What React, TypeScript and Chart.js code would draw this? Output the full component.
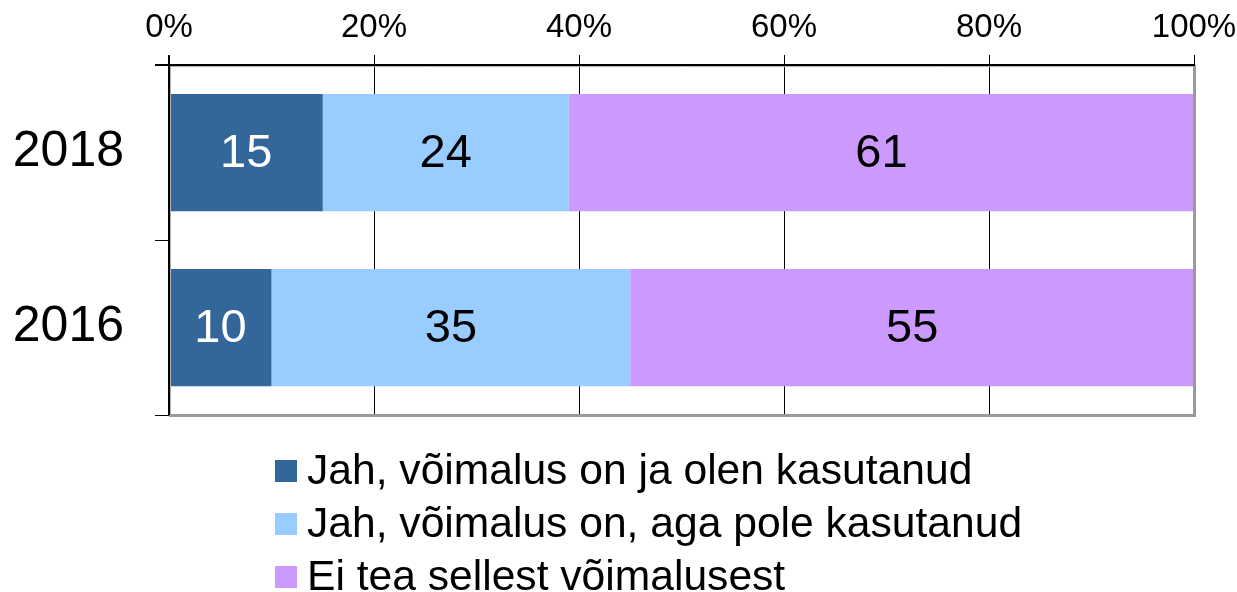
import React, { useEffect, useRef } from 'react';
import { Chart, registerables } from 'chart.js';

Chart.register(...registerables);

const categories = ['2018', '2016'];
const seriesNames = [
  'Jah, võimalus on ja olen kasutanud',
  'Jah, võimalus on, aga pole kasutanud',
  'Ei tea sellest võimalusest',
];
const usedValues = [15, 10];
const notUsedValues = [24, 35];
const unknownValues = [61, 55];
const xTickValues = [0, 20, 40, 60, 80, 100];
const seriesColors = ['#336699', '#99CCFF', '#CC99FF'];
const labelColors = ['#FFFFFF', '#000000', '#000000'];

const FONT = '"Liberation Sans", Arial, Helvetica, sans-serif';

const dataLabelPlugin = {
  id: 'dataLabels',
  afterDatasetsDraw(chart: any) {
    const ctx = chart.ctx;
    ctx.save();
    ctx.font = `47px ${FONT}`;
    ctx.textAlign = 'center';
    ctx.textBaseline = 'middle';
    chart.data.datasets.forEach((ds: any, i: number) => {
      const meta = chart.getDatasetMeta(i);
      meta.data.forEach((el: any, j: number) => {
        const p = el.getProps(['x', 'y', 'base'], true);
        ctx.fillStyle = labelColors[i];
        ctx.fillText(String(ds.data[j]), (p.x + p.base) / 2, p.y + 2);
      });
    });
    ctx.restore();
  },
};

const framePlugin = {
  id: 'frame',
  afterDraw(chart: any) {
    const ctx = chart.ctx;
    const a = chart.chartArea;
    ctx.save();
    ctx.lineCap = 'butt';
    ctx.strokeStyle = '#9a9a9a';
    ctx.lineWidth = 3;
    ctx.beginPath();
    ctx.moveTo(a.right + 0.5, a.top);
    ctx.lineTo(a.right + 0.5, a.bottom + 1.5);
    ctx.moveTo(a.left, a.bottom + 0.5);
    ctx.lineTo(a.right + 2, a.bottom + 0.5);
    ctx.stroke();
    ctx.strokeStyle = '#b0b0b0';
    ctx.lineWidth = 1;
    ctx.beginPath();
    ctx.moveTo(a.left, a.top + 1.5);
    ctx.lineTo(a.right, a.top + 1.5);
    ctx.moveTo(a.left + 1.5, a.top);
    ctx.lineTo(a.left + 1.5, a.bottom);
    ctx.stroke();
    ctx.strokeStyle = '#000000';
    ctx.lineWidth = 2;
    ctx.beginPath();
    ctx.moveTo(a.left - 14, a.top);
    ctx.lineTo(a.right + 1, a.top);
    ctx.moveTo(a.left, a.top - 10);
    ctx.lineTo(a.left, a.bottom);
    ctx.stroke();
    ctx.restore();
  },
};

const legendPlugin = {
  id: 'customLegend',
  afterDraw(chart: any) {
    const ctx = chart.ctx;
    ctx.save();
    ctx.font = `42.6px ${FONT}`;
    ctx.textBaseline = 'middle';
    ctx.textAlign = 'left';
    const startY = 471;
    const step = 53;
    chart.data.datasets.forEach((ds: any, i: number) => {
      const cy = startY + i * step;
      ctx.fillStyle = ds.backgroundColor;
      ctx.fillRect(275, cy - 11, 22, 22);
      ctx.fillStyle = '#000000';
      ctx.fillText(ds.label, 307, cy + 1);
    });
    ctx.restore();
  },
};

export default function App() {
  const canvasRef = useRef<HTMLCanvasElement | null>(null);

  useEffect(() => {
    document.body.style.margin = '0';
    const canvas = canvasRef.current;
    if (!canvas) return;
    const chart = new Chart(canvas, {
      type: 'bar',
      data: {
        labels: categories,
        datasets: [
          { label: seriesNames[0], data: usedValues, backgroundColor: seriesColors[0] },
          { label: seriesNames[1], data: notUsedValues, backgroundColor: seriesColors[1] },
          { label: seriesNames[2], data: unknownValues, backgroundColor: seriesColors[2] },
        ],
      },
      options: {
        indexAxis: 'y',
        responsive: false,
        animation: false,
        devicePixelRatio: 1,
        categoryPercentage: 1,
        barPercentage: 0.67,
        layout: { padding: { left: 0, top: 0, right: 43, bottom: 177 } },
        plugins: {
          legend: { display: false },
          tooltip: { enabled: false },
          title: { display: false },
        },
        scales: {
          x: {
            position: 'top',
            stacked: true,
            min: 0,
            max: 100,
            afterBuildTicks: (s: any) => {
              s.ticks = xTickValues.map((v) => ({ value: v }));
            },
            afterFit: (s: any) => {
              s.height = 65;
              s.paddingLeft = 0;
              s.paddingRight = 0;
            },
            ticks: {
              callback: (v: any) => `${v}%`,
              font: { family: FONT, size: 33 },
              color: '#000000',
              padding: 7,
              maxRotation: 0,
            },
            grid: {
              color: '#000000',
              lineWidth: 1,
              tickLength: 10,
              drawOnChartArea: true,
            },
            border: { display: false },
          },
          y: {
            stacked: true,
            afterFit: (s: any) => {
              s.width = 169;
            },
            ticks: {
              font: { family: FONT, size: 50 },
              color: '#000000',
              padding: 31,
            },
            grid: {
              offset: true,
              color: '#000000',
              lineWidth: 1,
              tickLength: 14,
              drawOnChartArea: false,
            },
            border: { display: false },
          },
        },
      },
      plugins: [dataLabelPlugin, framePlugin, legendPlugin],
    });
    return () => chart.destroy();
  }, []);

  return (
    <div style={{ position: 'fixed', left: 0, top: 0, width: 1237, height: 592, background: '#ffffff' }}>
      <canvas ref={canvasRef} width={1237} height={592} style={{ width: 1237, height: 592, display: 'block' }} />
    </div>
  );
}
